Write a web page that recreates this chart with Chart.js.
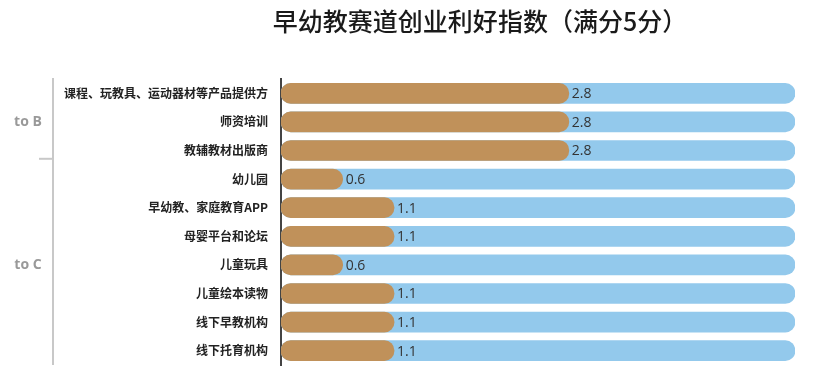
<!DOCTYPE html>
<html>
<head>
<meta charset="utf-8">
<script src="https://cdn.jsdelivr.net/npm/chart.js@4"></script>
<style>
  html, body { margin: 0; padding: 0; background: #fff; overflow: hidden; }
  canvas { display: block; }
</style>
</head>
<body>
<canvas id="chart" width="819" height="376"></canvas>
<script>
const categories = [
  '课程、玩教具、运动器材等产品提供方',
  '师资培训',
  '教辅教材出版商',
  '幼儿园',
  '早幼教、家庭教育APP',
  '母婴平台和论坛',
  '儿童玩具',
  '儿童绘本读物',
  '线下早教机构',
  '线下托育机构'
];
const scores = [2.8, 2.8, 2.8, 0.6, 1.1, 1.1, 0.6, 1.1, 1.1, 1.1];
const fullScore = categories.map(() => 5);
const groups = [
  { label: 'to B', from: 0, to: 2 },
  { label: 'to C', from: 3, to: 9 }
];
const titleText = '早幼教赛道创业利好指数（满分5分）';

const cjk = '"Noto Sans CJK SC", "Noto Sans", sans-serif';

// title, value labels and the to B / to C bracket
const decorations = {
  id: 'decorations',
  afterDatasetsDraw(chart) {
    const { ctx, chartArea } = chart;
    const yScale = chart.scales.y;
    const meta = chart.getDatasetMeta(0);

    ctx.save();
    ctx.fillStyle = '#1a1a1a';
    ctx.font = '500 25px ' + cjk;
    ctx.textAlign = 'center';
    ctx.textBaseline = 'middle';
    ctx.fillText(titleText, 480, 21);

    // values at the end of each bar
    ctx.font = '14px "Open Sans", sans-serif';
    ctx.fillStyle = '#333';
    ctx.textAlign = 'left';
    meta.data.forEach((bar, i) => {
      ctx.fillText(scores[i].toFixed(1), bar.x + 3, bar.y + 1);
    });

    // group bracket
    const lineX = 53;
    ctx.strokeStyle = '#c8c8c8';
    ctx.lineWidth = 2;
    ctx.beginPath();
    ctx.moveTo(lineX, chartArea.top - 1);
    ctx.lineTo(lineX, chartArea.bottom);
    ctx.stroke();

    ctx.font = 'bold 14px "Open Sans", sans-serif';
    ctx.fillStyle = '#999';
    ctx.textAlign = 'center';
    groups.forEach((g, gi) => {
      const y0 = yScale.getPixelForValue(g.from);
      const y1 = yScale.getPixelForValue(g.to);
      ctx.fillText(g.label, 28, (y0 + y1) / 2);
      if (gi < groups.length - 1) {
        const yb = (y1 + yScale.getPixelForValue(g.to + 1)) / 2 - 6;
        ctx.beginPath();
        ctx.moveTo(39, yb);
        ctx.lineTo(lineX, yb);
        ctx.stroke();
      }
    });
    ctx.restore();
  }
};

new Chart(document.getElementById('chart'), {
  type: 'bar',
  data: {
    labels: categories,
    datasets: [
      {
        data: scores,
        backgroundColor: '#c0915a',
        borderRadius: 10,
        borderSkipped: false,
        barThickness: 20
      },
      {
        data: fullScore,
        backgroundColor: '#93c9ec',
        borderRadius: 10,
        borderSkipped: false,
        barThickness: 20
      }
    ]
  },
  options: {
    indexAxis: 'y',
    responsive: false,
    animation: false,
    datasets: { bar: { grouped: false } },
    layout: { padding: { top: 79, right: 24, bottom: 11, left: 0 } },
    scales: {
      x: {
        display: false,
        min: 0,
        max: 5
      },
      y: {
        afterFit(scale) {
          scale.width = 281;
          // tick padding would otherwise reserve space below the last row
          scale.paddingTop = 0;
          scale.paddingBottom = 0;
        },
        grid: { display: false, drawTicks: false },
        border: { display: true, color: '#444', width: 2 },
        ticks: {
          color: '#222',
          padding: 13,
          font: { family: cjk, size: 12, weight: 'bold' }
        }
      }
    },
    plugins: {
      legend: { display: false },
      tooltip: { enabled: false }
    }
  },
  plugins: [decorations]
});
</script>
</body>
</html>
